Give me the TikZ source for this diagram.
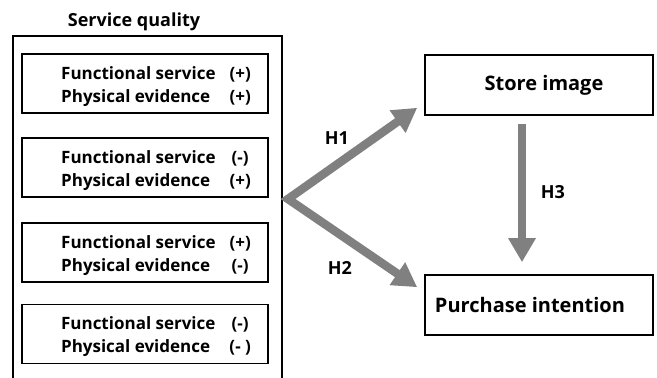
\documentclass[tikz,border=0pt]{standalone}
\usepackage{fontspec}
\setmainfont{Open Sans}
\usepackage{xcolor}
\usetikzlibrary{arrows.meta}

\definecolor{arrowgray}{RGB}{128,128,128}
\tikzset{
	qbox/.style={draw, line width=1.6pt, minimum width=246pt, minimum height=59pt},
	rbox/.style={draw, line width=1.6pt, minimum width=228pt, minimum height=60pt,
		font=\bfseries\fontsize{20}{24}\selectfont},
	hyp/.style={draw=arrowgray, line width=8.5pt, line join=miter,
		-{Triangle[width=26pt,length=24pt]}},
	hlab/.style={font=\bfseries\fontsize{18}{21}\selectfont},
}

\begin{document}
\begin{tikzpicture}[x=1pt, y=-1pt, font=\bfseries\fontsize{17}{20}\selectfont]
	\useasboundingbox (0,0) rectangle (657,378);
	
	% service quality frame, its bottom runs off the page
	\node[draw, line width=2pt, minimum width=269pt, minimum height=370pt] (sq) at (147.5,221) {};
	\node[font=\bfseries\fontsize{18}{21}\selectfont] (title) at (134,22) {Service quality};
	
	\foreach \i/\y/\fs/\pe in {
		1/83.5/+/+,
		2/167.5/-/+,
		3/252.5/+/-,
		4/334/-/-
	}{
		\node[qbox] (box\i) at (145,\y) {};
		\node (txt\i) at (156,\y+3) {\begin{tabular}{@{}l@{\hspace{14pt}}c@{}}
				Functional service & (\fs)\\[3pt]
				Physical evidence & (\pe)
			\end{tabular}};
	}
	
	\node[rbox] (store) at (539,85) {\kern10pt Store image};
	\node[rbox] (purchase) at (539,305) {Purchase intention\kern18pt};
	
	\coordinate (v) at (288,199);
	\draw[hyp, {Triangle[width=26pt,length=24pt]}-{Triangle[width=26pt,length=24pt]}]
		([xshift=-7pt,yshift=8pt]store.south west) -- (v) -- ([xshift=-7pt,yshift=-13pt]purchase.north west);
	\draw[hyp] ([xshift=-17pt,yshift=-8pt]store.south) -- ([xshift=-17pt,yshift=12pt]purchase.north);
	
	\node[hlab] (lh1) at (337,138) {H1};
	\node[hlab] (lh2) at (340,268) {H2};
	\node[hlab] (lh3) at (553,192) {H3};
\end{tikzpicture}
\end{document}
